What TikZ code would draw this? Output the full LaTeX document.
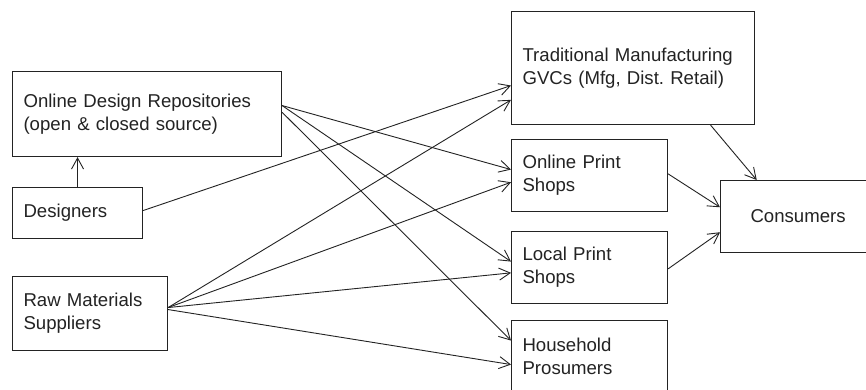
\documentclass[tikz,border=0pt]{standalone}
\usepackage{fontspec}
\setmainfont{Liberation Sans}
\usetikzlibrary{arrows.meta}
\definecolor{ink}{RGB}{35,35,35}
\begin{document}
\frenchspacing
\begin{tikzpicture}[x=1pt,y=-1pt,
  box/.style={draw=ink, line width=1.1pt, rectangle, anchor=north west,
    align=left, inner xsep=11pt, inner ysep=0pt, text=ink,
    font=\fontsize{18.6}{23}\selectfont},
  conn/.style={draw=ink, line width=0.9pt, -{Straight Barb[length=11pt,width=12pt,line width=0.9pt]}}
]
\useasboundingbox (0,0) rectangle (866,389);
\clip (0,0) rectangle (866,389);
\fill[white] (0,0) rectangle (866,389);

\node[box, minimum width=269pt, minimum height=85pt, text width=247pt] (odr) at (12,71)
  {Online Design Repositories\\(open \& closed source)};
\node[box, minimum width=130pt, minimum height=51pt, text width=108pt] (des) at (12,187)
  {Designers};
\node[box, minimum width=155pt, minimum height=74pt, text width=133pt] (raw) at (12,276)
  {Raw Materials\\Suppliers};
\node[box, minimum width=243pt, minimum height=113pt, text width=221pt] (trad) at (511,11)
  {Traditional Manufacturing\\GVCs (Mfg, Dist. Retail)};
\node[box, minimum width=156pt, minimum height=72pt, text width=134pt] (ops) at (511,139)
  {Online Print\\Shops};
\node[box, minimum width=156pt, minimum height=72pt, text width=134pt] (lps) at (511,231)
  {Local Print\\Shops};
\node[box, minimum width=156pt, minimum height=72pt, text width=134pt] (hp) at (511,320)
  {Household\\Prosumers};
\node[box, minimum width=180pt, minimum height=72pt, inner xsep=30pt, text width=120pt] (con) at (720,180)
  {Consumers};

% Designers -> ODR
\draw[conn] (des.north) -- (des.north |- odr.south);
% to Traditional
\draw[conn] ([yshift=2.5pt]des.east) -- ([yshift=-17.5pt]trad.west);
\draw[conn] ([yshift=6pt]raw.east) -- ([yshift=-31.8pt]trad.west);
% to Online Print Shops
\draw[conn] ([yshift=8.5pt]odr.east) -- ([yshift=6pt]ops.west);
\draw[conn] ([yshift=6pt]raw.east) -- ([yshift=-6.7pt]ops.west);
% to Local Print Shops
\draw[conn] ([yshift=8.5pt]odr.east) -- ([yshift=6pt]lps.west);
\draw[conn] ([yshift=6pt]raw.east) -- ([yshift=-5.3pt]lps.west);
% to Household Prosumers
\draw[conn] ([yshift=1.8pt]odr.east) -- ([yshift=16pt]hp.west);
\draw[conn] ([yshift=4pt]raw.east) -- ([yshift=-8pt]hp.west);
% to Consumers
\draw[conn] ([xshift=77.5pt]trad.south) -- ([xshift=36.7pt]con.north west);
\draw[conn] ([yshift=1.7pt]ops.east) -- ([yshift=9.3pt]con.west);
\draw[conn] ([yshift=-1.3pt]lps.east) -- ([yshift=-15.7pt]con.west);
\end{tikzpicture}
\end{document}
